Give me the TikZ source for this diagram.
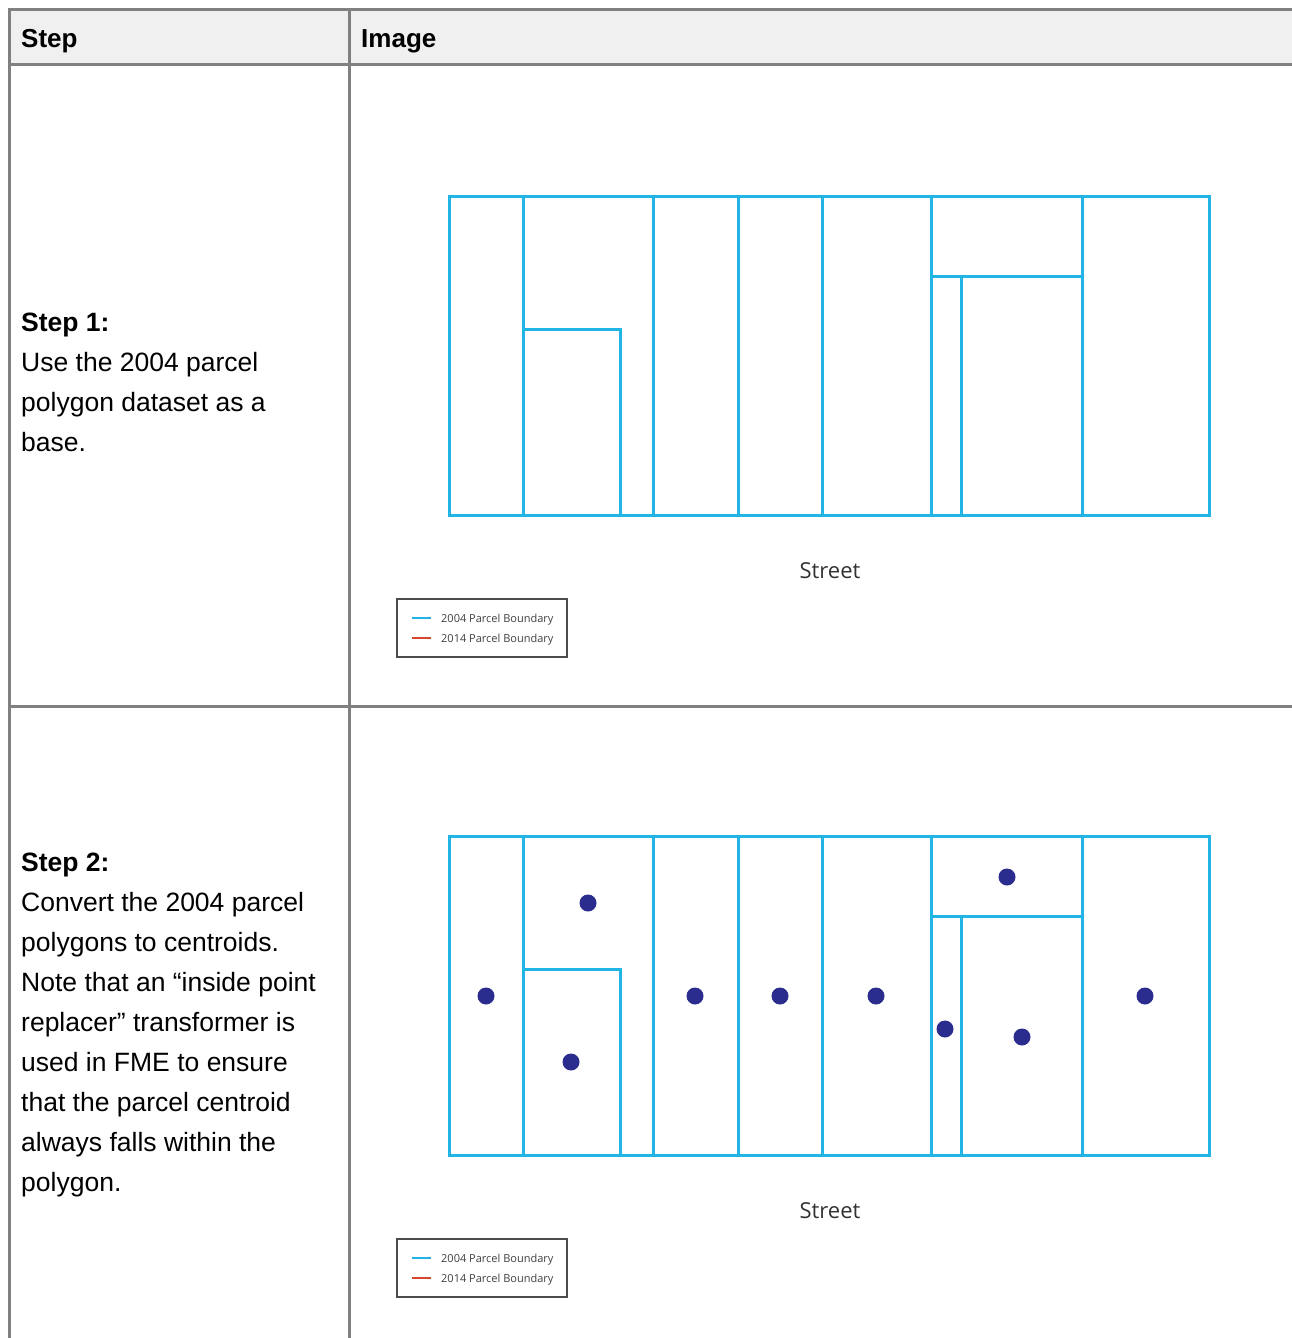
\documentclass[tikz,border=0pt]{standalone}
\usepackage{fontspec}
\setmainfont{Liberation Sans}
\newfontfamily\mapfont{Open Sans}
\definecolor{gridgray}{HTML}{808080}
\definecolor{headfill}{HTML}{F0F0F0}
\definecolor{parcel}{HTML}{22B4E4}
\definecolor{newparcel}{HTML}{D9452B}
\definecolor{dotblue}{HTML}{2B2D8E}
\tikzset{
  tline/.style={draw=gridgray, line width=3pt},
  cellhead/.style={anchor=base west, inner sep=0pt, font=\fontsize{26}{40}\selectfont\bfseries},
  celltext/.style={anchor=north west, inner sep=0pt, align=left, font=\fontsize{26.5}{40}\selectfont},
  pline/.style={draw=parcel, line width=3pt},
  cdot/.style={circle, fill=dotblue, inner sep=0pt, minimum size=17pt},
  streetlbl/.style={font=\mapfont\fontsize{22}{26}\selectfont, text=black!80, inner sep=0pt},
  legbox/.style={draw=black!70, line width=1.2pt, fill=white},
  legtxt/.style={anchor=west, inner sep=0pt, font=\mapfont\fontsize{11}{13}\selectfont, text=black!75},
}
\newcommand{\parcels}[1]{%
  \begin{scope}[yshift=-#1pt]
    \draw[pline] (449,196) rectangle (1209,515);
    \foreach \xx in {523,653,738,822,931,1082} { \draw[pline] (\xx,196) -- (\xx,515); }
    \draw[pline] (523,329) -- (620,329) -- (620,515);
    \draw[pline] (931,276) -- (1082,276);
    \draw[pline] (961,276) -- (961,515);
  \end{scope}}
\begin{document}
\begin{tikzpicture}[x=1pt,y=-1pt]
\useasboundingbox (0,0) rectangle (1292,1338);
\fill[white] (0,0) rectangle (1292,1338);
% header
\fill[headfill] (9.5,9.5) rectangle (1292,65);
\draw[tline] (8,9.5) -- (1292,9.5);
\draw[tline] (8,65) -- (1292,65);
\draw[tline] (8,706) -- (1292,706);
\draw[tline] (9.5,8) -- (9.5,1338);
\draw[tline] (349.5,8) -- (349.5,1338);
\node[cellhead] (hstep) at (21,48) {Step};
\node[cellhead] (himage) at (361,48) {Image};
% step texts
\node[celltext] (s1) at (21,313) {\textbf{Step 1:}\\Use the 2004 parcel\\polygon dataset as a\\base.};
\node[celltext] (s2) at (21,853) {\textbf{Step 2:}\\Convert the 2004 parcel\\polygons to centroids.\\Note that an “inside point\\replacer” transformer is\\used in FME to ensure\\that the parcel centroid\\always falls within the\\polygon.};
% maps
\parcels{0}
\parcels{640}
\node[streetlbl] (st1) at (830,571) {Street};
\node[streetlbl] (st2) at (830,1211) {Street};
% legends
\foreach \oy/\nm in {0/a,640/b} {
  \draw[legbox] (397,599+\oy) rectangle (567,657+\oy);
  \draw[parcel, line width=2.5pt] (412,618+\oy) -- (431,618+\oy);
  \draw[newparcel, line width=2.5pt] (412,638+\oy) -- (431,638+\oy);
  \node[legtxt] (l1\nm) at (441,619.5+\oy) {2004 Parcel Boundary};
  \node[legtxt] (l2\nm) at (441,639.5+\oy) {2014 Parcel Boundary};
}
% centroids
\node[cdot] (c1) at (486,996) {};
\node[cdot] (c2) at (588,903) {};
\node[cdot] (c3) at (571,1062) {};
\node[cdot] (c4) at (695,996) {};
\node[cdot] (c5) at (780,996) {};
\node[cdot] (c6) at (876,996) {};
\node[cdot] (c7) at (1007,877) {};
\node[cdot] (c8) at (945,1029) {};
\node[cdot] (c9) at (1022,1037) {};
\node[cdot] (c10) at (1145,996) {};
\end{tikzpicture}
\end{document}
